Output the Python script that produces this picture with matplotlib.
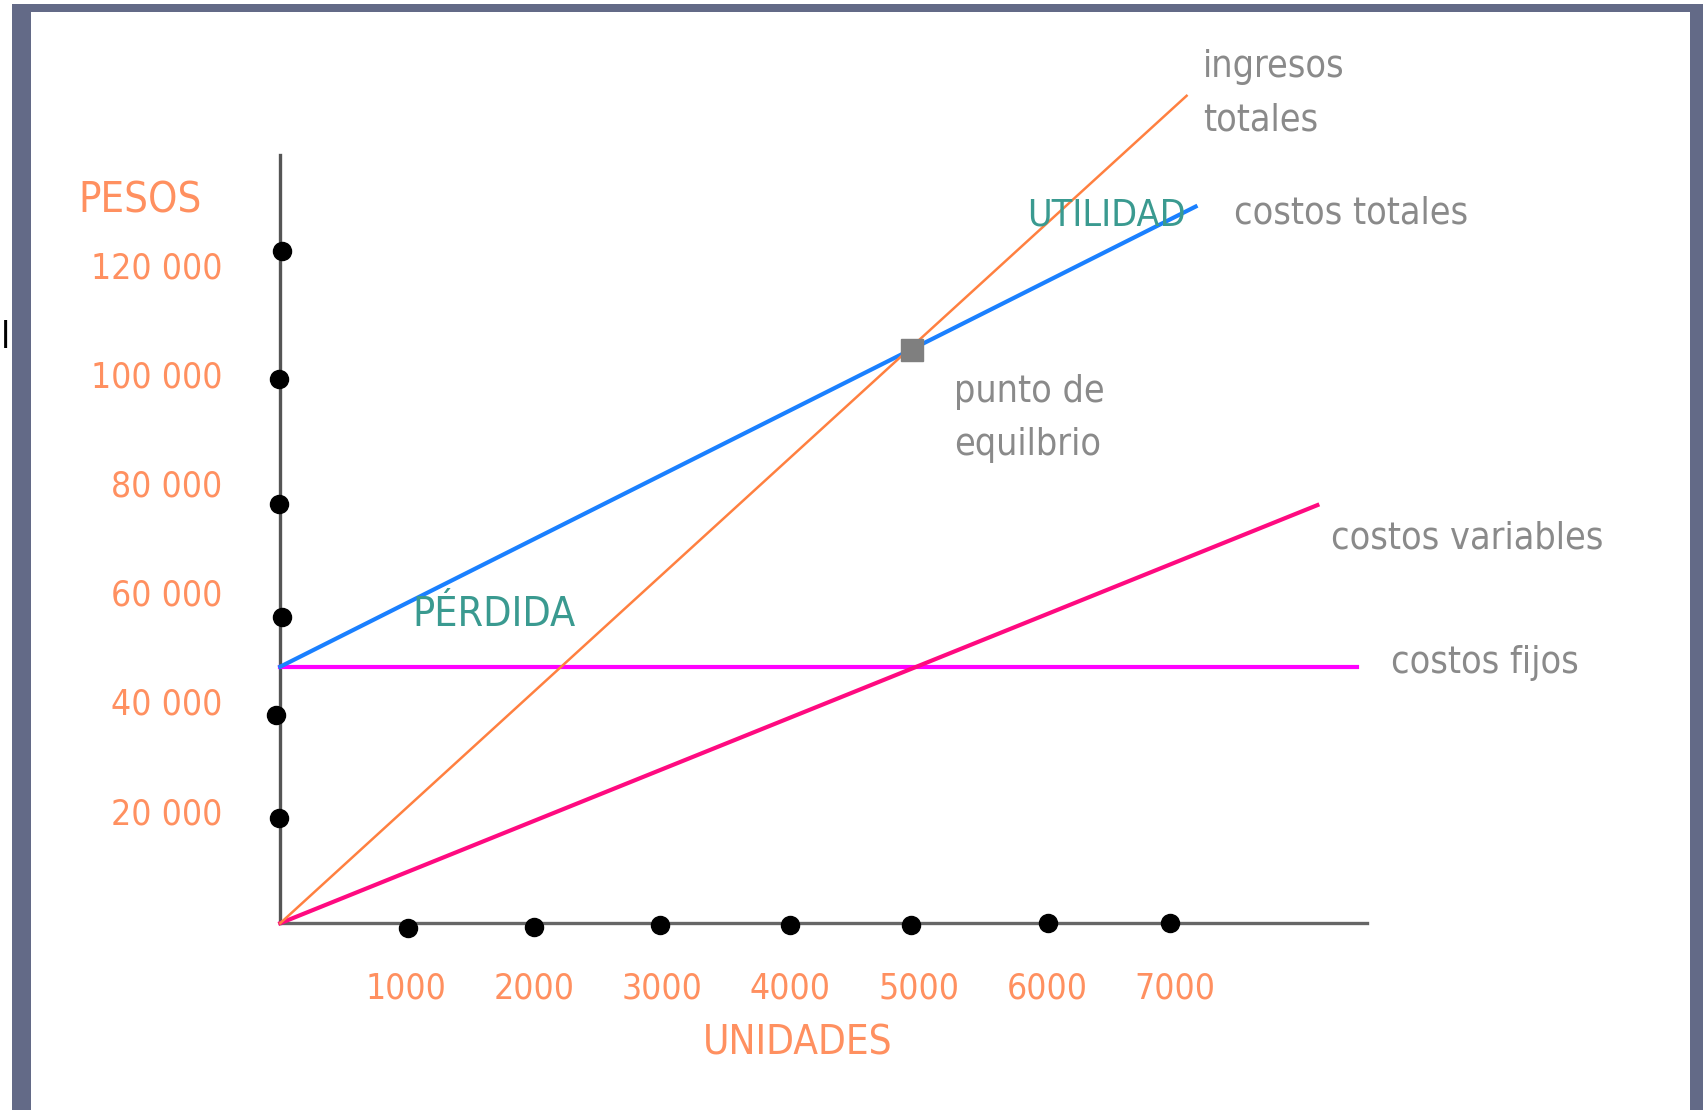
import matplotlib
matplotlib.use("Agg")
import matplotlib.pyplot as plt
from matplotlib.patches import Rectangle
from matplotlib import font_manager as fm

####################################
#               Data               #
####################################

units_ticks = [1000, 2000, 3000, 4000, 5000, 6000, 7000]
pesos_ticks = [20000, 40000, 60000, 80000, 100000, 120000]
pesos_labels = ['20 000', '40 000', '60 000', '80 000', '100 000', '120 000']

# dots drawn by hand on the axes (not exactly on the ticks)
x_dots_units = [995, 1980, 2960, 3980, 4920, 5990, 6940]
x_dots_pesos = [-880, -700, -400, -400, -400, 0, 0]
y_dots_units = [-10, -35, 15, -10, -10, 15]
y_dots_pesos = [19300, 38200, 56100, 76800, 99700, 123200]

# lines
fijos_x = [0, 8400]
fijos_y = [47000, 47000]
totales_x = [0, 7140]
totales_y = [47000, 131300]
ingresos_x = [0, 7070]
ingresos_y = [0, 151600]
variables_x = [0, 8090]
variables_y = [0, 76600]
equilibrio_x = [4930]
equilibrio_y = [105100]

# axis extents
x_axis_end = 8475
y_axis_end = 140700

####################################
#            Parameters            #
####################################

W, H = 1703, 1110
frame_col = '#636A87'
orange_txt = '#FF9060'
gray_txt = '#8A8A8A'
teal_txt = '#3A9A90'

# look for a narrow sans face, the original text is condensed
narrow = None
for f in fm.fontManager.ttflist:
    if f.style != 'normal' or f.weight not in (400, 'normal', 'regular'):
        continue
    if 'Narrow' in f.name or 'Condensed' in f.name or f.stretch in ('condensed', 'semi-condensed'):
        if 'Mono' in f.name or 'Serif' in f.name:
            continue
        narrow = f
        break

if narrow is not None:
    FONT = fm.FontProperties(fname=narrow.fname).get_name()
    fs, fs_tick = 27, 25.5
    stretch = narrow.stretch
else:
    FONT = 'Liberation Sans'
    fs, fs_tick = 27, 25
    stretch = 'normal'
plt.rcParams['font.family'] = [FONT, 'DejaVu Sans']
plt.rcParams['font.stretch'] = stretch

####################################
#               Main               #
####################################

fig = plt.figure(figsize=(W / 100, H / 100), dpi=100, facecolor='white')
ax = fig.add_axes([0, 0, 1, 1])
ax.set_xlim(-2186, 11098)
ax.set_ylim(-34225, 169150)
ax.axis('off')

# frame round the slide
fig.add_artist(Rectangle((12 / W, 0), 19 / W, (H - 4) / H, transform=fig.transFigure,
                         color=frame_col, lw=0))
fig.add_artist(Rectangle((12 / W, (H - 12) / H), (W - 12) / W, 8 / H, transform=fig.transFigure,
                         color=frame_col, lw=0))
fig.add_artist(Rectangle((1690 / W, 0), 13 / W, (H - 4) / H, transform=fig.transFigure,
                         color=frame_col, lw=0))

# axes lines
ax.plot([0, 0], [0, y_axis_end], color='#555555', lw=2.4, zorder=2)
ax.plot([0, x_axis_end], [0, 0], color='#666666', lw=2.4, zorder=2)

# cost / revenue lines
ax.plot(fijos_x, fijos_y, color='#FF00FF', lw=3.0, zorder=3)
ax.plot(variables_x, variables_y, color='#FF0A80', lw=3.0, zorder=3)
ax.plot(totales_x, totales_y, color='#1A80FF', lw=3.0, zorder=3)
ax.plot(ingresos_x, ingresos_y, color='#FF8040', lw=1.8, zorder=4)
ax.plot(equilibrio_x, equilibrio_y, 's', color='#7F7F7F', ms=16, zorder=5)

# dots on the axes
ax.plot(x_dots_units, x_dots_pesos, 'o', color='black', ms=13, zorder=6)
ax.plot(y_dots_units, y_dots_pesos, 'o', color='black', ms=13, zorder=6)

# tick labels
for u in units_ticks:
    ax.text(u - 20, -11900, str(u), color=orange_txt, fontsize=fs_tick, ha='center', va='center')
for p, lab in zip(pesos_ticks, pesos_labels):
    ax.text(-450, p, lab, color=orange_txt, fontsize=fs_tick, ha='right', va='center')

ax.text(-1577, 132500, 'PESOS', color=orange_txt, fontsize=fs + 3, ha='left', va='center')
ax.text(4039, -22100, 'UNIDADES', color=orange_txt, fontsize=fs + 2, ha='center', va='center')

# line labels
ax.text(7198, 152000, 'ingresos\ntotales', color=gray_txt, fontsize=fs, ha='left', va='center',
        linespacing=1.6)
ax.text(7440, 130000, 'costos totales', color=gray_txt, fontsize=fs, ha='left', va='center')
ax.text(5253, 92500, 'punto de\nequilbrio', color=gray_txt, fontsize=fs, ha='left', va='center',
        linespacing=1.6)
ax.text(8200, 70400, 'costos variables', color=gray_txt, fontsize=fs, ha='left', va='center')
ax.text(8666, 47600, 'costos fijos', color=gray_txt, fontsize=fs, ha='left', va='center')

ax.text(5826, 129600, 'UTILIDAD', color=teal_txt, fontsize=fs, ha='left', va='center', zorder=7)
ax.text(1032, 56500, 'PÉRDIDA', color=teal_txt, fontsize=fs + 2.5, ha='left', va='center', zorder=7)

# stray letter at the left edge
ax.text(-2176, 107200, 'l', color='black', fontsize=fs, ha='left', va='center')

plt.savefig('out.png', dpi=100)
